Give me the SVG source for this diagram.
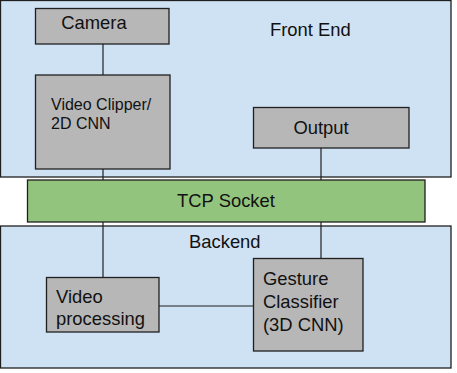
<svg xmlns="http://www.w3.org/2000/svg" width="457" height="373" viewBox="0 0 457 373">
  <style>
    .region { fill: #cfe2f3; stroke: #1f1f1f; stroke-width: 1.3; }
    .box { fill: #b7b7b7; stroke: #1f1f1f; stroke-width: 1.3; }
    .bus { fill: #93c47d; stroke: #1f1f1f; stroke-width: 1.3; }
    .link { stroke: #1f1f1f; stroke-width: 1.2; fill: none; }
    text { font-family: "Liberation Sans", Arial, sans-serif; fill: #111; }
    .lg { font-size: 18.4px; }
    .sm { font-size: 16px; }
  </style>
  <rect width="457" height="373" fill="#ffffff"/>

  <!-- front end region -->
  <g id="front-end">
    <rect class="region" x="0.5" y="0.5" width="450.5" height="176.5"/>
    <text class="lg" x="270" y="36">Front End</text>
  </g>

  <!-- backend region -->
  <g id="backend">
    <rect class="region" x="0.5" y="226" width="450.5" height="142"/>
    <text class="lg" x="189" y="248">Backend</text>
  </g>

  <!-- connectors -->
  <g id="connectors">
    <line class="link" x1="103" y1="44" x2="103" y2="75"/>
    <line class="link" x1="103" y1="169" x2="103" y2="180"/>
    <line class="link" x1="321" y1="148" x2="321" y2="180"/>
    <line class="link" x1="103" y1="222" x2="103" y2="277"/>
    <line class="link" x1="321" y1="222" x2="321" y2="258"/>
    <line class="link" x1="159" y1="306" x2="253" y2="306"/>
  </g>

  <g id="camera">
    <rect class="box" x="35.5" y="8.5" width="133.5" height="35.5"/>
    <text class="lg" x="94" y="29" text-anchor="middle">Camera</text>
  </g>

  <g id="video-clipper">
    <rect class="box" x="35.5" y="75" width="134.5" height="94"/>
    <text class="sm" x="51" y="110">Video Clipper/</text>
    <text class="sm" x="51" y="129">2D CNN</text>
  </g>

  <g id="output">
    <rect class="box" x="253.5" y="107.5" width="155.5" height="40.5"/>
    <text class="lg" x="321" y="134" text-anchor="middle">Output</text>
  </g>

  <g id="tcp-socket">
    <rect class="bus" x="27.5" y="180" width="397.5" height="42"/>
    <text class="lg" x="226" y="207" text-anchor="middle">TCP Socket</text>
  </g>

  <g id="video-processing">
    <rect class="box" x="46.5" y="277.5" width="112.5" height="54.5"/>
    <text class="lg" x="56" y="303">Video</text>
    <text class="lg" x="56" y="325">processing</text>
  </g>

  <g id="gesture-classifier">
    <rect class="box" x="253.5" y="258.5" width="109.5" height="92.5"/>
    <text class="lg" x="263" y="285">Gesture</text>
    <text class="lg" x="263" y="308">Classifier</text>
    <text class="lg" x="263" y="331">(3D CNN)</text>
  </g>
</svg>
